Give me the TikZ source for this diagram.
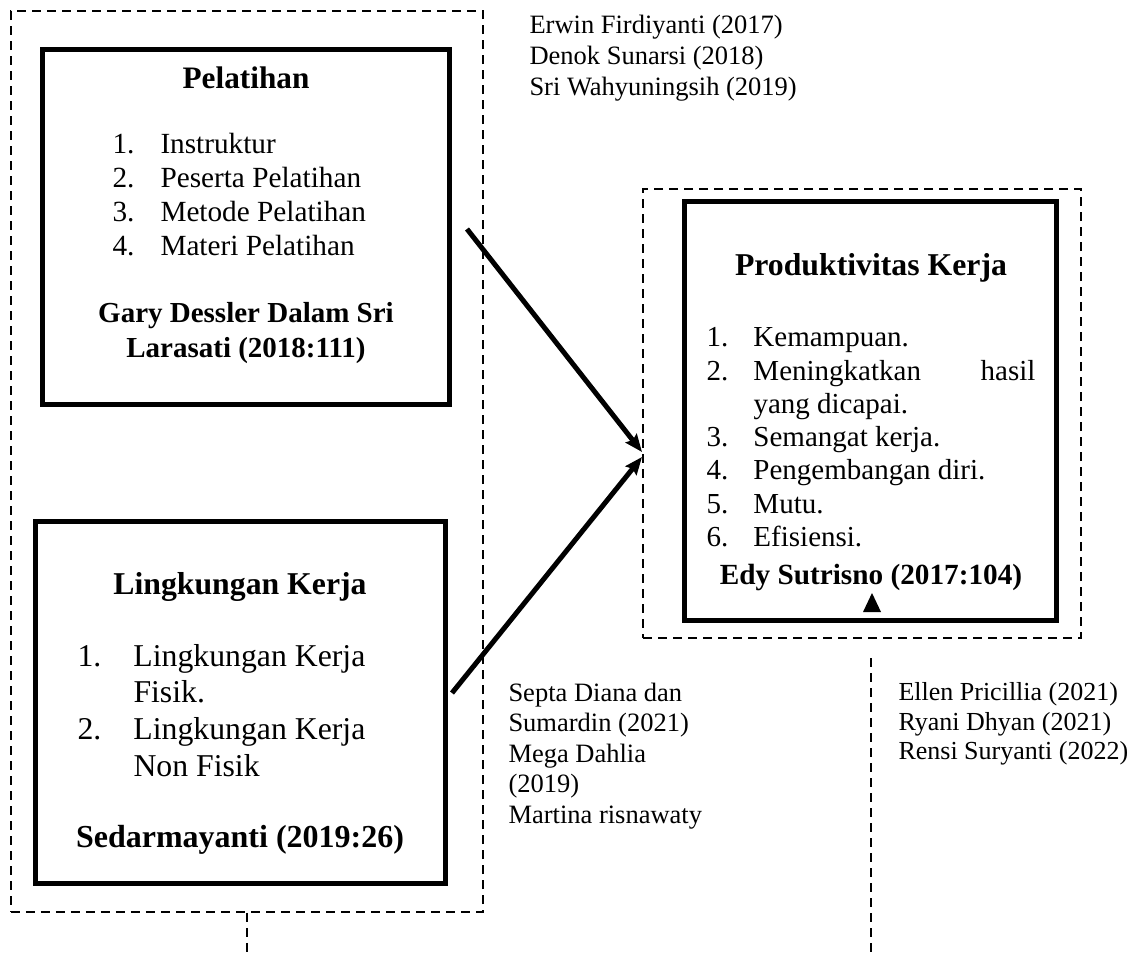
\documentclass[tikz,border=0pt]{standalone}
\usepackage{fontspec}
\setmainfont{Liberation Serif}
\usepackage{array}
\usetikzlibrary{arrows.meta}

\begin{document}
\begin{tikzpicture}[x=0.4pt, y=-0.4pt,
    kotak/.style={draw, line width=2.2pt, inner sep=0pt},
    bingkai/.style={draw, line width=0.6pt, dash pattern=on 3.5pt off 2.5pt, inner sep=0pt},
    garis/.style={line width=0.6pt, dash pattern=on 3.5pt off 2.5pt},
    panah/.style={line width=2pt, -{Stealth[length=7pt, width=5.6pt, inset=1pt]}},
    teks/.style={align=left, inner sep=0pt, anchor=west}]
    \useasboundingbox (0,0) rectangle (1147,955);

    % dashed frames
    \node [bingkai, minimum width=188.8pt, minimum height=360.4pt] (kiri) at (247,461.5) {};
    \node [bingkai, minimum width=175.2pt, minimum height=179.6pt] (kanan) at (862,413.5) {};

    % Pelatihan
    \node [kotak, minimum width=162.8pt, minimum height=142pt] (pel) at (246,227) {};
    \node [font=\bfseries\fontsize{12.5}{15}\selectfont] (pelJudul) at (246,78) {Pelatihan};
    \node [teks, font=\fontsize{11.7}{13.6}\selectfont] (pelDaftar) at (112,198) {%
        \begin{tabular}{@{}p{19.2pt}@{}l@{}}
            1. & Instruktur\\
            2. & Peserta Pelatihan\\
            3. & Metode Pelatihan\\
            4. & Materi Pelatihan
        \end{tabular}};
    \node [align=center, font=\bfseries\fontsize{11.6}{14}\selectfont] (pelSumber) at (246,333) {Gary Dessler Dalam Sri\\Larasati (2018:111)};

    % Lingkungan Kerja
    \node [kotak, minimum width=164pt, minimum height=144.8pt] (lk) at (240.5,702.5) {};
    \node [font=\bfseries\fontsize{12.7}{15}\selectfont] (lkJudul) at (240,587) {Lingkungan Kerja};
    \node [teks, font=\fontsize{12.7}{14.7}\selectfont] (lkDaftar) at (77,714) {%
        \begin{tabular}{@{}p{22.4pt}@{}l@{}}
            1. & Lingkungan Kerja\\
               & Fisik.\\
            2. & Lingkungan Kerja\\
               & Non Fisik
        \end{tabular}};
    \node [font=\bfseries\fontsize{12.8}{15}\selectfont] (lkSumber) at (240,840) {Sedarmayanti (2019:26)};

    % Produktivitas Kerja
    \node [kotak, minimum width=148.8pt, minimum height=167.6pt] (pk) at (870.5,411) {};
    \node [font=\bfseries\fontsize{12.7}{15}\selectfont] (pkJudul) at (871,268) {Produktivitas Kerja};
    \node [teks, font=\fontsize{11.6}{13.3}\selectfont] (pkDaftar) at (706,440) {%
        \begin{tabular}{@{}p{18.8pt}@{}p{112.8pt}@{}}
            1. & Kemampuan.\\
            2. & Meningkatkan \hfill hasil\\
               & yang dicapai.\\
            3. & Semangat kerja.\\
            4. & Pengembangan diri.\\
            5. & Mutu.\\
            6. & Efisiensi.
        \end{tabular}};
    \node [font=\bfseries\fontsize{11.7}{14}\selectfont] (pkSumber) at (871,577) {Edy Sutrisno (2017:104)};
    \fill (863,612) -- (872,593) -- (881,612) -- cycle;

    % references
    \node [teks, font=\fontsize{10.6}{12.4}\selectfont] (ref1) at (529,58) {Erwin Firdiyanti (2017)\\Denok Sunarsi (2018)\\Sri Wahyuningsih (2019)};
    \node [teks, font=\fontsize{10.6}{12.2}\selectfont] (ref2) at (508,756) {Septa Diana dan\\Sumardin (2021)\\Mega Dahlia\\(2019)\\Martina risnawaty};
    \node [teks, font=\fontsize{10.4}{11.8}\selectfont] (ref3) at (898,724) {Ellen Pricillia (2021)\\Ryani Dhyan (2021)\\Rensi Suryanti (2022)};

    % arrows
    \coordinate (pangkal1) at (467,229);
    \coordinate (pangkal2) at (452,693);
    \coordinate (ujung1) at (642,452);
    \coordinate (ujung2) at (642,457);
    \draw [panah] (pangkal1) -- (ujung1);
    \draw [panah] (pangkal2) -- (ujung2);

    % dashed lines down
    \coordinate (bawah1) at (247,955);
    \coordinate (atas2) at (871,658);
    \coordinate (bawah2) at (871,955);
    \draw [garis] (kiri.south) -- (bawah1);
    \draw [garis] (atas2) -- (bawah2);
\end{tikzpicture}
\end{document}
